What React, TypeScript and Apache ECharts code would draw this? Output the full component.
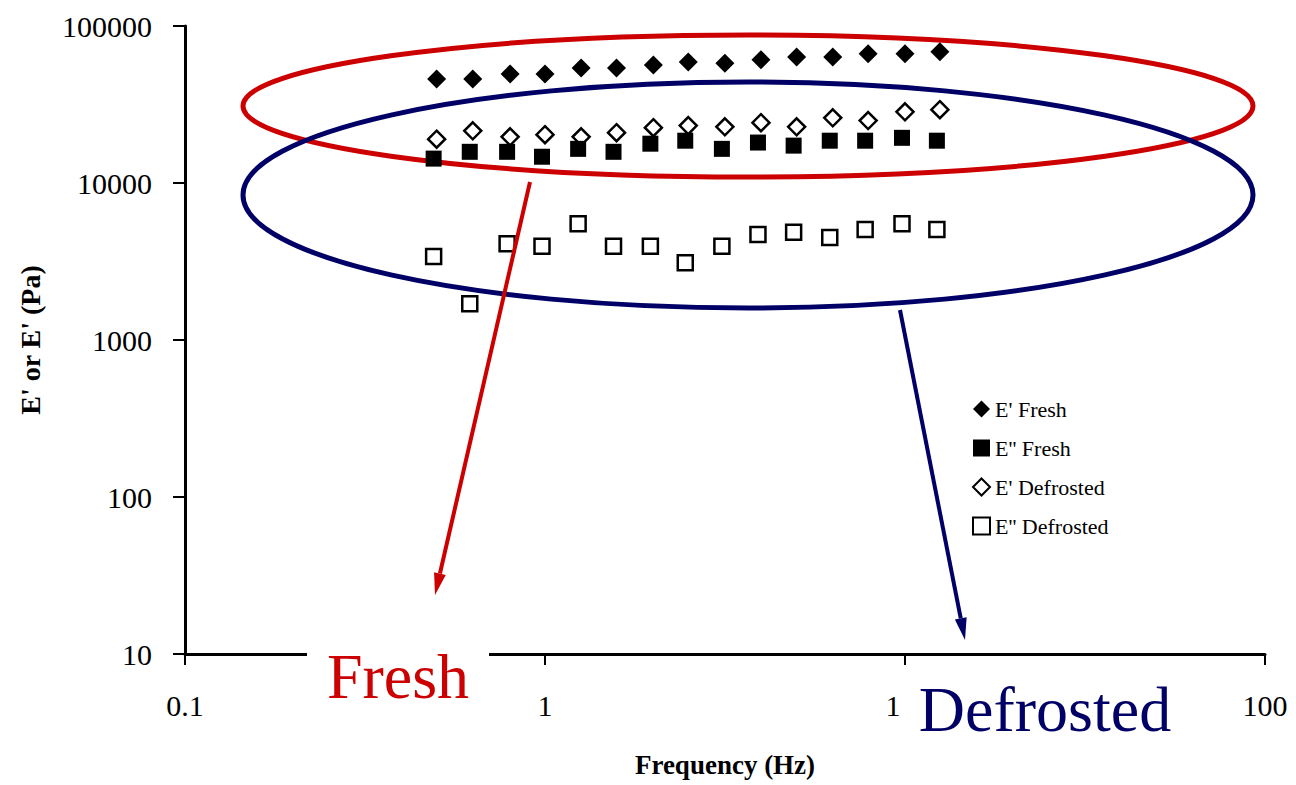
import React, { useEffect, useRef } from "react";
import * as echarts from "echarts";

const frequency = [0.5, 0.63, 0.8, 1, 1.26, 1.58, 2, 2.5, 3.16, 3.98, 5, 6.3, 7.9, 10, 12.5];
const eFresh = [46000, 46000, 49500, 49500, 54000, 54000, 56500, 59000, 58000, 61000, 63500, 63500, 66500, 66500, 68500];
const e2Fresh = [14300, 15800, 15800, 14700, 16500, 15800, 17800, 18600, 16500, 18100, 17300, 18600, 18600, 19400, 18600];
const eDefrosted = [19000, 21500, 19700, 20300, 19700, 20900, 22500, 23200, 22800, 24200, 22800, 26000, 25000, 28400, 29300];
const e2Defrosted = [3400, 1700, 4100, 3950, 5500, 3950, 3950, 3100, 3950, 4700, 4850, 4500, 5050, 5500, 5050];
const seriesNames = ["E' Fresh", "E'' Fresh", "E' Defrosted", "E'' Defrosted"];
const xTickLabels = ["0.1", "1", "1", "100"];
const xAxisTitle = "Frequency (Hz)";
const yAxisTitle = "E' or E' (Pa)";
const freshLabel = "Fresh";
const defrostedLabel = "Defrosted";

const SERIF = "'Liberation Serif', 'Times New Roman', serif";
const RED = "#cc0000";
const NAVY = "#000066";

function arrow(x1: number, y1: number, x2: number, y2: number, color: string, z: number) {
  const dx = x2 - x1;
  const dy = y2 - y1;
  const len = Math.sqrt(dx * dx + dy * dy);
  const ux = dx / len;
  const uy = dy / len;
  const headLen = 22;
  const headW = 6;
  const bx = x2 - ux * headLen;
  const by = y2 - uy * headLen;
  const px = -uy;
  const py = ux;
  return [
    {
      type: "line",
      z,
      shape: { x1, y1, x2: bx, y2: by },
      style: { stroke: color, lineWidth: 4 },
    },
    {
      type: "polygon",
      z,
      shape: {
        points: [
          [x2, y2],
          [bx + px * headW, by + py * headW],
          [bx - px * headW, by - py * headW],
        ],
      },
      style: { fill: color },
    },
  ];
}

export default function App() {
  const ref = useRef<HTMLDivElement>(null);
  useEffect(() => {
    if (!ref.current) return;
    const chart = echarts.init(ref.current, null, { renderer: "svg" });
    const pairs = (ys: number[]) => frequency.map((f, i) => [f, ys[i]]);
    const option = {
      animation: false,
      backgroundColor: "#ffffff",
      grid: { left: 185, right: 31, top: 26, bottom: 131, containLabel: false, outerBoundsMode: "none" },
      legend: {
        orient: "vertical",
        left: 972,
        top: 398,
        padding: 0,
        itemGap: 17,
        itemWidth: 17,
        itemHeight: 17,
        data: seriesNames,
        textStyle: { fontFamily: SERIF, fontSize: 22, color: "#000" },
      },
      xAxis: {
        type: "log",
        logBase: 10,
        min: 0.1,
        max: 100,
        name: xAxisTitle,
        nameLocation: "middle",
        nameGap: 97,
        nameTextStyle: { fontFamily: SERIF, fontSize: 27, fontWeight: "bold", color: "#000" },
        axisLine: { lineStyle: { color: "#000", width: 3 } },
        axisTick: { length: 11, lineStyle: { color: "#000", width: 2 } },
        minorTick: { show: false },
        splitLine: { show: false },
        axisLabel: {
          fontFamily: SERIF,
          fontSize: 30,
          color: "#000",
          margin: 36,
          formatter: (v: number) => {
            const idx = Math.round(Math.log10(v)) + 1;
            const t = xTickLabels[idx] ?? String(v);
            return idx === 2 ? "{s|" + t + "}" : t;
          },
          rich: {
            s: { fontFamily: SERIF, fontSize: 30, color: "#000", padding: [0, 24, 0, 0] },
          },
        },
      },
      yAxis: {
        type: "log",
        logBase: 10,
        min: 10,
        max: 100000,
        name: yAxisTitle,
        nameLocation: "middle",
        nameGap: 141,
        nameTextStyle: { fontFamily: SERIF, fontSize: 28, fontWeight: "bold", color: "#000" },
        axisLine: { show: true, lineStyle: { color: "#000", width: 3 } },
        axisTick: { show: true, length: 12, lineStyle: { color: "#000", width: 2 } },
        minorTick: { show: false },
        splitLine: { show: false },
        axisLabel: {
          fontFamily: SERIF,
          fontSize: 30,
          color: "#000",
          margin: 33,
          formatter: (v: number) => String(Math.round(v)),
        },
      },
      series: [
        {
          name: seriesNames[0],
          type: "scatter",
          symbol: "diamond",
          symbolSize: 19,
          itemStyle: { color: "#000", opacity: 1 },
          data: pairs(eFresh),
          z: 3,
        },
        {
          name: seriesNames[1],
          type: "scatter",
          symbol: "rect",
          symbolSize: 16,
          symbolOffset: [-3, 0],
          itemStyle: { color: "#000", opacity: 1 },
          data: pairs(e2Fresh),
          z: 4,
        },
        {
          name: seriesNames[2],
          type: "scatter",
          symbol: "diamond",
          symbolSize: 17,
          itemStyle: { color: "#fff", borderColor: "#000", borderWidth: 2.5, opacity: 1 },
          data: pairs(eDefrosted),
          z: 3,
        },
        {
          name: seriesNames[3],
          type: "scatter",
          symbol: "rect",
          symbolSize: 15,
          symbolOffset: [-3, 0],
          itemStyle: { color: "#fff", borderColor: "#000", borderWidth: 2.5, opacity: 1 },
          data: pairs(e2Defrosted),
          z: 3,
        },
      ],
      graphic: [
        {
          type: "ellipse",
          z: 1,
          shape: { cx: 748, cy: 106, rx: 505, ry: 71 },
          style: { fill: "none", stroke: RED, lineWidth: 5 },
        },
        {
          type: "ellipse",
          z: 1,
          shape: { cx: 748, cy: 195, rx: 505, ry: 113 },
          style: { fill: "none", stroke: NAVY, lineWidth: 5 },
        },
        ...arrow(530, 182, 435, 595, RED, 20),
        ...arrow(900, 310, 965, 640, NAVY, 20),
        {
          type: "rect",
          z: 30,
          shape: { x: 307, y: 640, width: 182, height: 70 },
          style: { fill: "#ffffff" },
        },
        {
          type: "text",
          z: 31,
          x: 398,
          y: 708,
          style: {
            text: freshLabel,
            fill: RED,
            font: "64px " + SERIF,
            textAlign: "center",
            textVerticalAlign: "bottom",
          },
        },
        {
          type: "text",
          z: 31,
          x: 1045,
          y: 741,
          style: {
            text: defrostedLabel,
            fill: NAVY,
            font: "64px " + SERIF,
            textAlign: "center",
            textVerticalAlign: "bottom",
          },
        },
      ],
    };
    chart.setOption(option as any);
    return () => chart.dispose();
  }, []);
  return (
    <div
      ref={ref}
      style={{ position: "fixed", left: 0, top: 0, width: 1296, height: 785 }}
    />
  );
}
